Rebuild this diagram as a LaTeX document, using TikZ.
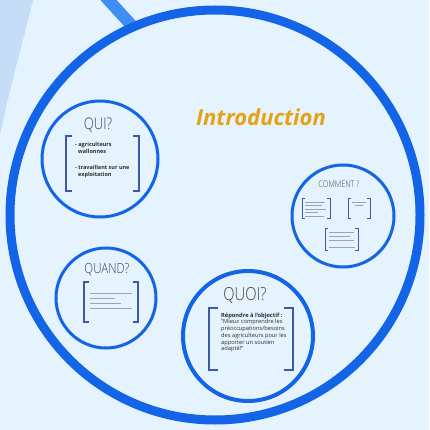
\documentclass[tikz,border=0pt]{standalone}
\usepackage{fontspec}
\setmainfont{Open Sans}
\newfontfamily\condfont{Open Sans Light}[FakeStretch=0.82]
\definecolor{bg}{RGB}{228,243,253}
\definecolor{shadeblue}{RGB}{198,221,248}
\definecolor{mainblue}{RGB}{20,100,232}
\definecolor{lineblue}{RGB}{62,142,243}
\definecolor{bracketblue}{RGB}{60,90,165}
\definecolor{titlegray}{RGB}{65,65,65}
\definecolor{textgray}{RGB}{45,45,45}
\definecolor{ghost}{RGB}{150,165,185}
\definecolor{gold}{RGB}{230,162,20}
\tikzset{
 ring/.style={circle, draw=mainblue, line width=#1, inner sep=0pt},
 titletext/.style={font=\condfont\fontsize{#1}{#1}\selectfont, text=titlegray, anchor=base, inner sep=0pt},
 brk/.style={draw=bracketblue, line width=#1},
 ghostline/.style={draw=ghost, line width=0.9pt},
 smalltext/.style={font=\fontsize{#1}{#1}\selectfont, text=textgray, anchor=base west, inner sep=0pt},
}
\newcommand\bracketpair[6]{%
 \draw[brk=#6] ({#1+#5},#3) -- (#1,#3) -- (#1,#4) -- ({#1+#5},#4);
 \draw[brk=#6] ({#2-#5},#3) -- (#2,#3) -- (#2,#4) -- ({#2-#5},#4);}
\begin{document}
\begin{tikzpicture}[x=1pt,y=-1pt]
\useasboundingbox (0,0) rectangle (429,430);
\fill[bg] (0,0) rectangle (429,430);
\fill[shadeblue] (0,0) -- (33,0) .. controls (22,45) and (8,95) .. (0,135) -- cycle;
% decorative line at top
\coordinate (ls) at (92,-18);
\coordinate (le) at (134,28);
\draw[lineblue, line width=12pt] (ls) -- (le);
% main circle
\node[ring=9pt, minimum size=410pt] (main) at (215,215) {};
% inner circles
\node[ring=3pt, minimum size=116pt] (quiC) at (100,159) {};
\node[ring=3pt, minimum size=102pt] (commentC) at (343,216) {};
\node[ring=3pt, minimum size=100pt] (quandC) at (106,298) {};
\node[ring=4pt, minimum size=130pt] (quoiC) at (248,336) {};
% title
\node[font=\bfseries\itshape\fontsize{22}{22}\selectfont, text=gold, anchor=base, inner sep=0pt] (intro) at (261,126) {Introduction};
% QUI
\node[titletext=16] (qui) at (98,130) {QUI?};
\bracketpair{66}{139}{136}{191}{6}{2pt}
\node[smalltext=5.5, font=\bfseries\fontsize{5.5}{5.5}\selectfont] (qa) at (75,147) {- agriculteurs};
\node[smalltext=5.5, font=\bfseries\fontsize{5.5}{5.5}\selectfont] (qb) at (78,154) {wallonnes};
\node[smalltext=5.5, font=\bfseries\fontsize{5.5}{5.5}\selectfont] (qc) at (75,170) {- travaillant sur une};
\node[smalltext=5.5, font=\bfseries\fontsize{5.5}{5.5}\selectfont] (qd) at (78,177) {exploitation};
% COMMENT
\node[titletext=9] (comment) at (339,188) {COMMENT ?};
\bracketpair{302}{330}{198}{218}{3}{1pt}
\bracketpair{348}{370}{198}{218}{3}{1pt}
\bracketpair{325}{358}{228}{250}{3}{1pt}
\draw[ghostline] (305,202) -- (325,202);
\draw[ghostline] (305,205.5) -- (322,205.5);
\draw[ghostline] (305,209) -- (326,209);
\draw[ghostline] (305,212.5) -- (318,212.5);
\draw[ghostline] (305,216) -- (324,216);
\draw[ghostline] (352,202) -- (366,202);
\draw[ghostline] (355,205.5) -- (363,205.5);
\draw[ghostline] (329,232) -- (354,232);
\draw[ghostline] (329,236) -- (350,236);
\draw[ghostline] (329,240) -- (354,240);
\draw[ghostline] (329,247.5) -- (355,247.5);
% QUAND
\node[titletext=14] (quand) at (107,273) {QUAND?};
\bracketpair{84}{138}{282}{322}{5}{1.5pt}
\draw[ghostline] (90,293) -- (132,293);
\draw[ghostline] (90,298) -- (115,298);
\draw[ghostline] (90,303) -- (121,303);
\draw[ghostline] (90,308.5) -- (132,308.5);
% QUOI
\node[titletext=18] (quoi) at (245,300) {QUOI?};
\bracketpair{209}{293}{308}{370}{9}{2.5pt}
\node[smalltext=5.7, font=\bfseries\fontsize{5.7}{5.7}\selectfont] (o1) at (221,317) {Répondre à l'objectif :};
\node[smalltext=5.7] (o2) at (221,323.8) {“Mieux comprendre les};
\node[smalltext=5.7] (o3) at (221,330.5) {préoccupations/besoins};
\node[smalltext=5.7] (o4) at (221,337.3) {des agriculteurs pour les};
\node[smalltext=5.7] (o5) at (221,344) {apporter un soutien};
\node[smalltext=5.7] (o6) at (221,350.8) {adapté!”};
\end{tikzpicture}
\end{document}
